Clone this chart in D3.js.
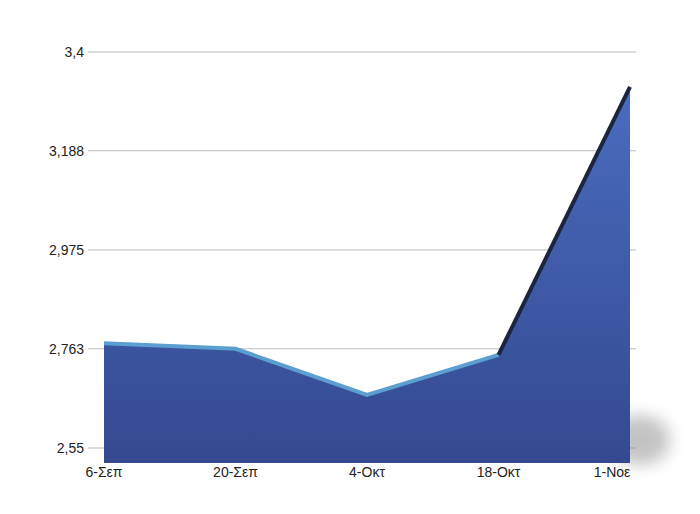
<!DOCTYPE html><html><head><meta charset="utf-8">
<script src="https://cdn.jsdelivr.net/npm/d3@7"></script>
<style>body{margin:0;background:#fff}text{font-family:"Liberation Sans",Arial,sans-serif;fill:#222}</style></head><body>
<svg id="c" width="700" height="514"></svg>
<script>
const categories=["6-Σεπ","20-Σεπ","4-Οκτ","18-Οκτ","1-Noε"];
const values=[2.775,2.763,2.664,2.75,3.325];
const yTicks=[2.55,2.763,2.975,3.188,3.4];
const yTickLabels=["2,55","2,763","2,975","3,188","3,4"];
const svg=d3.select("#c");
const x=d3.scalePoint().domain(categories).range([104,630]);
const y=d3.scaleLinear().domain([2.55,3.4]).range([448,52]);
const defs=svg.append("defs");
const g=defs.append("linearGradient").attr("id","gr").attr("x1",0).attr("y1",0).attr("x2",0).attr("y2",1);
g.append("stop").attr("offset",0).attr("stop-color","#4a6cc0");
g.append("stop").attr("offset",1).attr("stop-color","#34498f");
const f=defs.append("filter").attr("id","bl").attr("x","-50%").attr("y","-50%").attr("width","200%").attr("height","200%");
f.append("feGaussianBlur").attr("stdDeviation",8);
yTicks.forEach((t,i)=>{
 svg.append("line").attr("x1",88).attr("x2",636).attr("y1",y(t)).attr("y2",y(t)).attr("stroke","#bbb").attr("stroke-width",1.2);
 svg.append("text").attr("x",84).attr("y",y(t)+5).attr("text-anchor","end").attr("font-size",14).text(yTickLabels[i]);
});
const base=y.invert(463);
svg.append("ellipse").attr("cx",640).attr("cy",440).attr("rx",30).attr("ry",25).attr("fill","#888").attr("opacity",0.5).attr("filter","url(#bl)");
const area=d3.area().x(d=>x(d.c)).y0(y(base)).y1(d=>y(d.v));
const data=categories.map((c,i)=>({c,v:values[i]}));
svg.append("path").attr("d",area(data)).attr("fill","url(#gr)");
const line=d3.line().x(d=>x(d.c)).y(d=>y(d.v));
svg.append("path").attr("d",line(data.slice(0,4))).attr("fill","none").attr("stroke","#5a9fd0").attr("stroke-width",4);
svg.append("path").attr("d",line(data.slice(3))).attr("fill","none").attr("stroke","#1c2440").attr("stroke-width",4);
categories.forEach((c,i)=>{
 svg.append("text").attr("x",x(c)+(i==4?-18:0)).attr("y",477).attr("text-anchor","middle").attr("font-size",14).text(c);
});
</script></body></html>
